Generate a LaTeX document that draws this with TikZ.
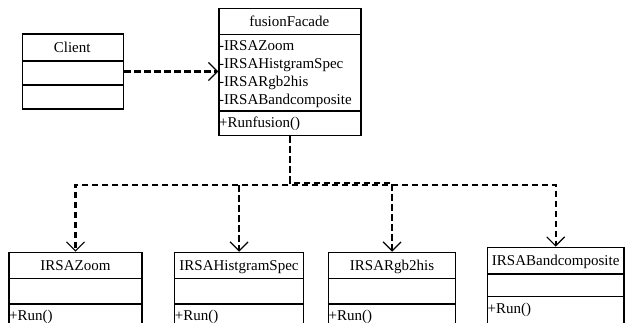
\documentclass[tikz,border=0pt]{standalone}
\usepackage{fontspec}
\setmainfont{Liberation Serif}
\usetikzlibrary{arrows.meta}

\tikzset{
  classbox/.style={draw, line width=1.4pt, rectangle, inner sep=0pt, anchor=north west},
  divider/.style={line width=1.4pt},
  ctitle/.style={inner sep=0pt, anchor=base},
  member/.style={inner sep=0pt, anchor=base west},
  dep/.style={line width=2.1pt, dash pattern=on 6.5pt off 3.5pt,
              -{Straight Barb[length=9pt,width=18pt,line width=1.2pt]}},
}

\begin{document}
\begin{tikzpicture}[x=1pt,y=-1pt,font=\fontsize{15}{18}\selectfont]
\useasboundingbox (0,0) rectangle (629,322);
\clip (0,0) rectangle (629,322);

% Client
\node[classbox, minimum width=101pt, minimum height=75pt] (client) at (21.7,33.3) {};
\draw[divider] (client.west |- 0,61) -- (client.east |- 0,61);
\draw[divider] (client.west |- 0,85) -- (client.east |- 0,85);
\node[ctitle] (clientname) at (72.2,52) {Client};

% Facade
\node[classbox, minimum width=142pt, minimum height=127.3pt] (facade) at (218.3,7.7) {};
\draw[divider] (facade.west |- 0,34.3) -- (facade.east |- 0,34.3);
\draw[divider] (facade.west |- 0,111) -- (facade.east |- 0,111);
\node[ctitle] (facadename) at (289.3,26) {fusionFacade};
\node[member] (a1) at (219,50) {-IRSAZoom};
\node[member] (a2) at (219,68.3) {-IRSAHistgramSpec};
\node[member] (a3) at (219,86.6) {-IRSARgb2his};
\node[member] (a4) at (219,104.9) {-IRSABandcomposite};
\node[member] (m0) at (219,127) {+Runfusion()};

% Subsystem classes
\node[classbox, minimum width=133pt, minimum height=80pt] (zoom) at (8.3,251.7) {};
\node[classbox, minimum width=128.7pt, minimum height=80pt] (hist) at (174,251.7) {};
\node[classbox, minimum width=127.3pt, minimum height=80pt] (rgb) at (327.7,251.7) {};
\node[classbox, minimum width=136.6pt, minimum height=85pt] (band) at (486.7,246.7) {};

\foreach \b in {zoom,hist,rgb}{
  \draw[divider] (\b.west |- 0,278.3) -- (\b.east |- 0,278.3);
  \draw[divider] (\b.west |- 0,304) -- (\b.east |- 0,304);
}
\draw[divider] (band.west |- 0,274) -- (band.east |- 0,274);
\draw[divider] (band.west |- 0,296.7) -- (band.east |- 0,296.7);

\node[ctitle] (zoomname) at (zoom.north |- 0,270) {IRSAZoom};
\node[ctitle] (histname) at (hist.north |- 0,270) {IRSAHistgramSpec};
\node[ctitle] (rgbname) at (rgb.north |- 0,270) {IRSARgb2his};
\node[ctitle] (bandname) at (band.north |- 0,265) {IRSABandcomposite};

\node[member] (zoomrun) at (9,320) {+Run()};
\node[member] (histrun) at (174.7,320) {+Run()};
\node[member] (rgbrun) at (328.4,320) {+Run()};
\node[member] (bandrun) at (487.4,313) {+Run()};

% Dependencies
\draw[dep] (client.east) -- (facade.west |- client.east);
\draw[dep] (facade.south) -- ++(0,48.3) -| (zoom.north);
\draw[dep] (facade.south) -- ++(0,48.3) -| (hist.north);
\draw[dep] (facade.south) -- ++(0,46.2) -| (rgb.north);
\draw[dep] (facade.south) -- ++(0,48.4) -| (band.north);
\end{tikzpicture}
\end{document}
